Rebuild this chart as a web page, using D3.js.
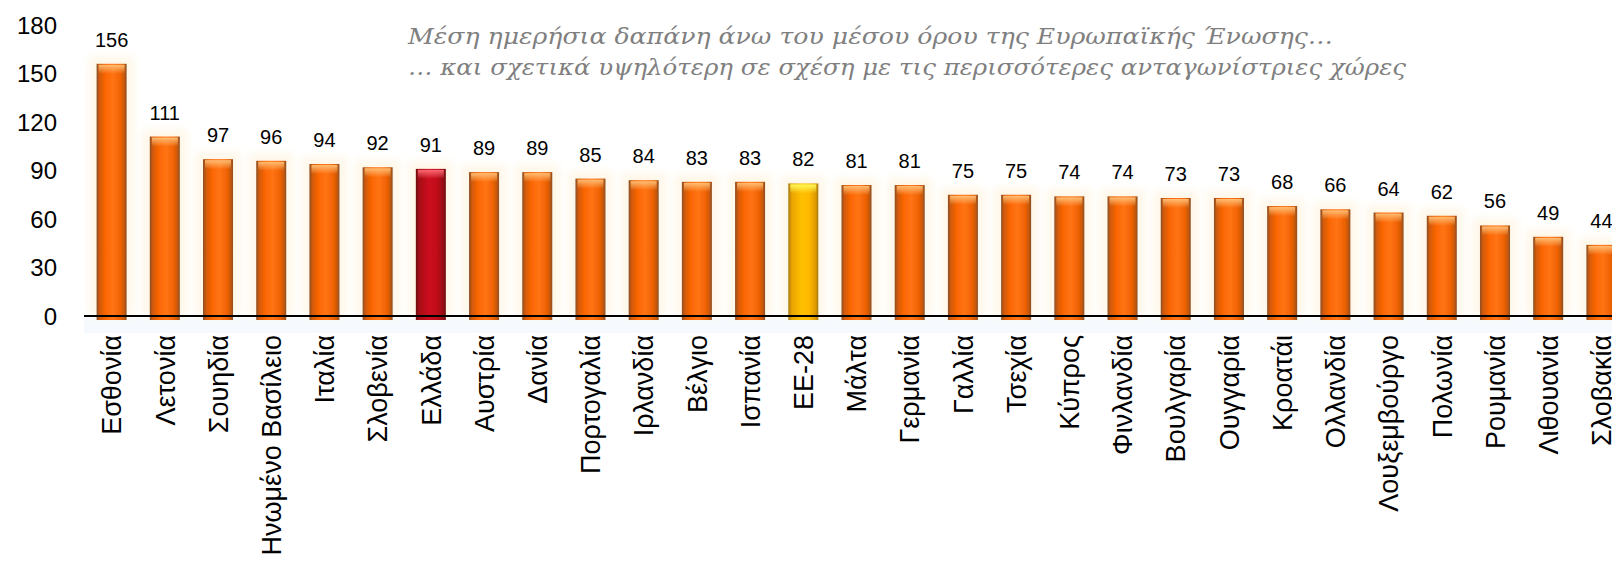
<!DOCTYPE html>
<html>
<head>
<meta charset="utf-8">
<script src="https://cdn.jsdelivr.net/npm/d3@7"></script>
<style>
  html, body { margin: 0; padding: 0; background: #ffffff; overflow: hidden; }
  svg { display: block; }
</style>
</head>
<body>
<svg id="chart" width="1612" height="567"></svg>
<script>
// Average daily spending per country (EUR)
const countries = ["Εσθονία","Λετονία","Σουηδία","Ηνωμένο Βασίλειο","Ιταλία","Σλοβενία","Ελλάδα","Αυστρία","Δανία","Πορτογαλία","Ιρλανδία","Βέλγιο","Ισπανία","ΕΕ-28","Μάλτα","Γερμανία","Γαλλία","Τσεχία","Κύπρος","Φινλανδία","Βουλγαρία","Ουγγαρία","Κροατάι","Ολλανδία","Λουξεμβούργο","Πολωνία","Ρουμανία","Λιθουανία","Σλοβακία"];
const spending = [156,111,97,96,94,92,91,89,89,85,84,83,83,82,81,81,75,75,74,74,73,73,68,66,64,62,56,49,44];
const yTicks = [0,30,60,90,120,150,180];
const highlightGreece = "Ελλάδα";
const highlightEU = "ΕΕ-28";
const subtitleLines = [
  "Μέση ημερήσια δαπάνη άνω του μέσου όρου της Ευρωπαϊκής Ένωσης…",
  "… και σχετικά υψηλότερη σε σχέση με τις περισσότερες ανταγωνίστριες χώρες"
];
const subtitleWidths = [925, 998];

const svg = d3.select("#chart");
const defs = svg.append("defs");

const x = d3.scaleBand().domain(countries).range([85, 1628]).paddingInner(0.436).paddingOuter(0.218);
const y = d3.scaleLinear().domain([0, 180]).range([316, 25]);

// cylinder-like shading for the bars
function bodyGradient(id, stops) {
  const g = defs.append("linearGradient").attr("id", id).attr("x1", "0").attr("x2", "1").attr("y1", "0").attr("y2", "0");
  stops.forEach(([o, c]) => g.append("stop").attr("offset", o).attr("stop-color", c));
}
bodyGradient("gOrange", [[0,"#8c4e26"],[0.1,"#d25a08"],[0.3,"#fb6604"],[0.55,"#ff7414"],[0.8,"#f06204"],[0.92,"#c75808"],[1,"#8c4e26"]]);
bodyGradient("gRed", [[0,"#6e1010"],[0.12,"#a80a14"],[0.45,"#cc1020"],[0.7,"#c00c1a"],[0.9,"#9a0a14"],[1,"#6e1010"]]);
bodyGradient("gYellow", [[0,"#a47a10"],[0.12,"#eba400"],[0.45,"#ffc000"],[0.7,"#ffb800"],[0.9,"#e09c00"],[1,"#a47a10"]]);

function capGradient(id, color) {
  const g = defs.append("linearGradient").attr("id", id).attr("x1", "0").attr("x2", "0").attr("y1", "0").attr("y2", "1");
  g.append("stop").attr("offset", 0).attr("stop-color", color).attr("stop-opacity", 0.95);
  g.append("stop").attr("offset", 1).attr("stop-color", color).attr("stop-opacity", 0);
}
capGradient("cOrange", "#ffc27a");
capGradient("cRed", "#ff6f7a");
capGradient("cYellow", "#ffff60");

const halo = defs.append("filter").attr("id", "halo").attr("x", "-50%").attr("y", "-50%").attr("width", "200%").attr("height", "200%");
halo.append("feGaussianBlur").attr("stdDeviation", 4);

const soft = defs.append("filter").attr("id", "soft");
soft.append("feGaussianBlur").attr("stdDeviation", 0.5);

function styleOf(c) {
  if (c === highlightGreece) return { body: "url(#gRed)", cap: "url(#cRed)" };
  if (c === highlightEU) return { body: "url(#gYellow)", cap: "url(#cYellow)" };
  return { body: "url(#gOrange)", cap: "url(#cOrange)" };
}

const data = countries.map((c, i) => ({ c, v: spending[i] }));

// faint reflection under the baseline
svg.append("rect").attr("x", 84).attr("y", y(0) + 2).attr("width", 1612 - 84).attr("height", 15)
  .attr("fill", "#f6f9fd");

// soft halo behind bars
svg.append("g").selectAll("rect").data(data).join("rect")
  .attr("x", d => x(d.c) - 7).attr("y", d => y(d.v) - 7)
  .attr("width", x.bandwidth() + 14).attr("height", d => y(0) - y(d.v) + 7)
  .attr("fill", "#fff7e8").attr("filter", "url(#halo)");

const bars = svg.append("g").attr("filter", "url(#soft)");
bars.selectAll("rect.body").data(data).join("rect").attr("class", "body")
  .attr("x", d => x(d.c)).attr("y", d => y(d.v))
  .attr("width", x.bandwidth()).attr("height", d => y(0) - y(d.v) + 4)
  .attr("fill", d => styleOf(d.c).body);
bars.selectAll("rect.cap").data(data).join("rect").attr("class", "cap")
  .attr("x", d => x(d.c) + 2).attr("y", d => y(d.v) + 1)
  .attr("width", x.bandwidth() - 4).attr("height", 9)
  .attr("fill", d => styleOf(d.c).cap);

// baseline
svg.append("line").attr("x1", 84).attr("x2", 1612).attr("y1", y(0)).attr("y2", y(0))
  .attr("stroke", "#000").attr("stroke-width", 2);

// y axis labels
const yAxis = d3.axisLeft(y).tickValues(yTicks).tickSize(0).tickPadding(0);
const yg = svg.append("g").attr("transform", "translate(57,0)").call(yAxis);
yg.select(".domain").remove();
yg.selectAll("text").attr("font-family", "'Liberation Sans', Arial, sans-serif")
  .attr("font-size", 24).attr("fill", "#000").attr("dy", "0.35em");

// value labels
svg.append("g").selectAll("text").data(data).join("text")
  .attr("x", d => x(d.c) + x.bandwidth() / 2).attr("y", d => y(d.v) - 17)
  .attr("text-anchor", "middle")
  .attr("font-family", "'Liberation Sans', Arial, sans-serif").attr("font-size", 20).attr("fill", "#000")
  .text(d => d.v);

// category labels
const xAxis = d3.axisBottom(x).tickSize(0).tickPadding(0);
const xg = svg.append("g").attr("transform", `translate(0,${y(0)})`).call(xAxis);
xg.select(".domain").remove();
xg.selectAll("text")
  .attr("font-family", "'Liberation Sans', Arial, sans-serif").attr("font-size", 27).attr("fill", "#000")
  .attr("transform", "rotate(-90)")
  .attr("text-anchor", "end")
  .attr("x", -19).attr("y", 0).attr("dy", "0.36em");

// subtitle
svg.append("g").attr("font-family", "'DejaVu Serif', serif").attr("font-style", "italic").attr("fill", "#7f7f7f")
  .selectAll("text").data(subtitleLines).join("text")
  .attr("x", 408).attr("y", (d, i) => 44 + i * 31).attr("font-size", 22)
  .attr("textLength", (d, i) => subtitleWidths[i]).attr("lengthAdjust", "spacingAndGlyphs")
  .text(d => d);
</script>
</body>
</html>
